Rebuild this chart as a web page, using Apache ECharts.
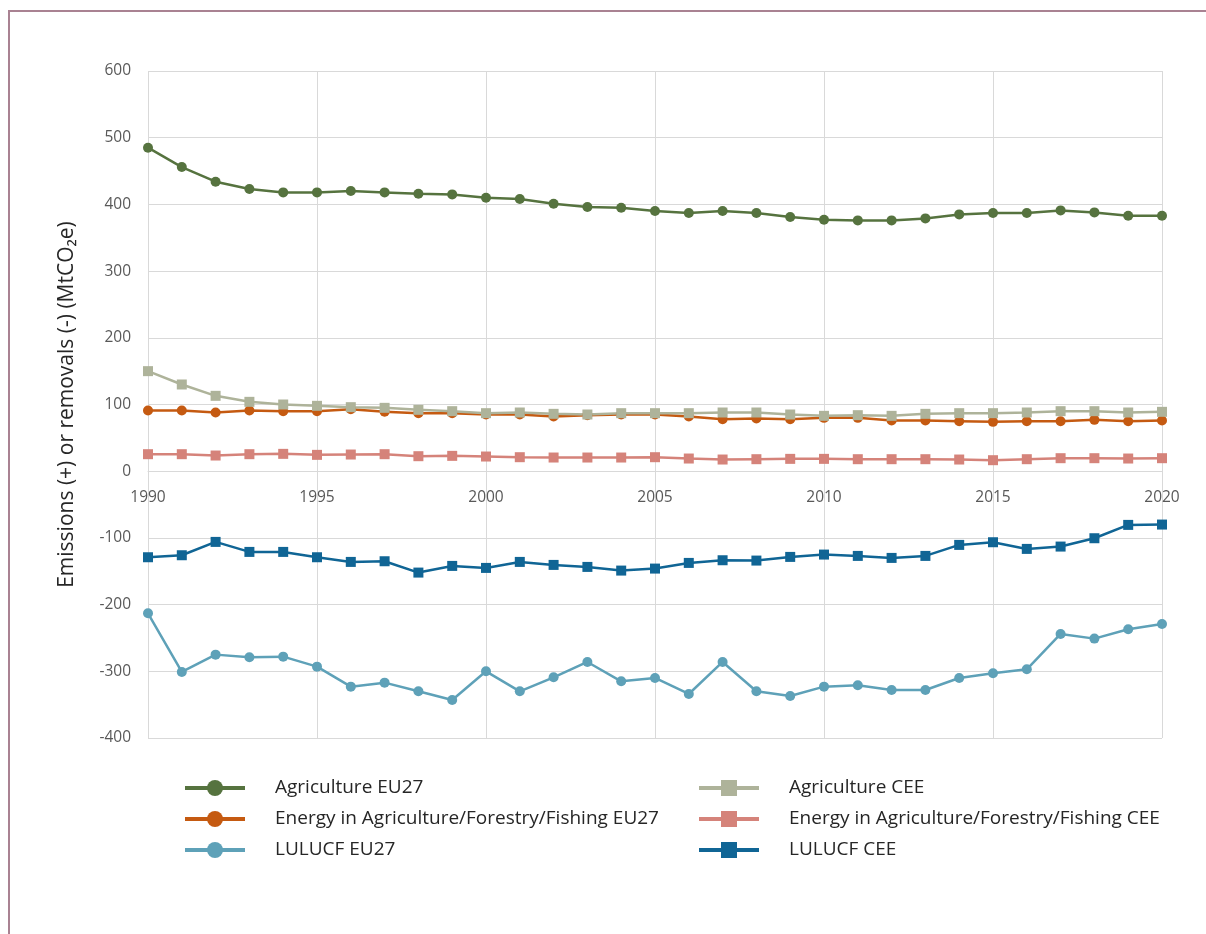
<!DOCTYPE html>
<html>
<head>
<meta charset="utf-8">
<script src="https://cdn.jsdelivr.net/npm/echarts@6/dist/echarts.min.js"></script>
<style>
  html, body { margin: 0; padding: 0; background: #fff; }
  #chart { width: 1206px; height: 934px; }
</style>
</head>
<body>
<div id="chart"></div>
<script>
const years = ['1990','1991','1992','1993','1994','1995','1996','1997','1998','1999','2000','2001','2002','2003','2004','2005','2006','2007','2008','2009','2010','2011','2012','2013','2014','2015','2016','2017','2018','2019','2020'];

const agriEU27 = [485,456,434,423,418,418,420,418,416,415,410,408,401,396,395,390,387,390,387,381,377,376,376,379,385,387,387,391,388,383,383];
const energyEU27 = [91,91,88,91,90,90,93,89,87,87,85,85,82,84,85,85,82,78,79,78,80,80,76,76,75,74,75,75,77,75,76];
const lulucfEU27 = [-213,-301,-275,-279,-278,-293,-323,-317,-330,-343,-300,-330,-309,-286,-315,-310,-334,-286,-330,-337,-323,-321,-328,-328,-310,-303,-297,-244,-251,-237,-229];
const agriCEE = [150,130,113,104,100,98,96,95,92,90,87,88,86,85,87,87,87,88,88,85,83,84,83,86,87,87,88,90,90,88,89];
const energyCEE = [25.5,25.5,23.5,25.5,26,24.5,25,25.5,22.5,23,22,21,20.5,20.5,20.5,21,19,17.5,18,18.5,18.5,18,18,18,17.5,16.5,18,19.5,19.5,19,19.5];
const lulucfCEE = [-129,-126,-106,-121,-121,-129,-136,-135,-152,-142,-145,-136,-140.5,-143.5,-149,-146,-137.5,-133.5,-134,-128.5,-125,-127,-130,-127,-110.5,-106.5,-116.5,-113,-100.5,-80.5,-80];

const names = {
  agriEU27: 'Agriculture EU27',
  energyEU27: 'Energy in Agriculture/Forestry/Fishing EU27',
  lulucfEU27: 'LULUCF EU27',
  agriCEE: 'Agriculture CEE',
  energyCEE: 'Energy in Agriculture/Forestry/Fishing CEE',
  lulucfCEE: 'LULUCF CEE'
};

const FONT = 'Open Sans';
const Y_MIN = -400, Y_MAX = 600;
const GRID_TOP = 71, GRID_BOTTOM = 196, H = 934;
const plotH = H - GRID_TOP - GRID_BOTTOM;
// move x axis up to the zero line of the value axis
const zeroOffset = -plotH * (0 - Y_MIN) / (Y_MAX - Y_MIN);

function mk(name, data, color, symbol) {
  return {
    name: name,
    type: 'line',
    data: data,
    symbol: symbol,
    symbolSize: 10,
    showSymbol: true,
    lineStyle: { color: color, width: 2.5 },
    itemStyle: { color: color },
    emphasis: { disabled: true },
    animation: false
  };
}

const chart = echarts.init(document.getElementById('chart'), null, { renderer: 'canvas' });

const legendCommon = {
  orient: 'vertical',
  itemWidth: 60,
  itemHeight: 20,
  itemGap: 5,
  padding: 0,
  lineStyle: { width: 4 },
  textStyle: { fontFamily: FONT, fontSize: 19, color: '#262626', padding: [0, 0, 0, 25], lineHeight: 26 },
  selectedMode: false
};

chart.setOption({
  backgroundColor: '#fff',
  textStyle: { fontFamily: FONT },
  graphic: [{
    type: 'polyline',
    shape: { points: [[9, 940], [9, 11], [1210, 11]] },
    style: { stroke: '#a98292', lineWidth: 2, fill: null },
    silent: true
  }],
  grid: { left: 148, right: 44, top: GRID_TOP, bottom: GRID_BOTTOM, containLabel: false },
  legend: [
    Object.assign({}, legendCommon, {
      left: 183, top: 775,
      data: [names.agriEU27, names.energyEU27, names.lulucfEU27]
    }),
    Object.assign({}, legendCommon, {
      left: 697, top: 775,
      data: [names.agriCEE, names.energyCEE, names.lulucfCEE]
    })
  ],
  xAxis: {
    type: 'category',
    data: years,
    boundaryGap: false,
    offset: zeroOffset,
    axisLine: { onZero: false, lineStyle: { color: '#d9d9d9', width: 1 } },
    axisTick: { show: false },
    axisLabel: { interval: 4, color: '#595959', fontFamily: FONT, fontSize: 15.5, margin: 18 },
    splitLine: { show: true, interval: 4, lineStyle: { color: '#d9d9d9', width: 1 } }
  },
  yAxis: {
    type: 'value',
    min: Y_MIN, max: Y_MAX, interval: 100,
    name: 'Emissions (+) or removals (-) (MtCO₂e)',
    nameLocation: 'middle',
    nameGap: 70,
    nameTextStyle: { fontFamily: FONT, fontSize: 21, color: '#262626' },
    axisLine: { show: false },
    axisTick: { show: false },
    axisLabel: { color: '#595959', fontFamily: FONT, fontSize: 15.5, margin: 17 },
    splitLine: { show: true, lineStyle: { color: '#d9d9d9', width: 1 } }
  },
  series: [
    mk(names.agriEU27, agriEU27, '#56733f', 'circle'),
    mk(names.energyEU27, energyEU27, '#c55a11', 'circle'),
    mk(names.lulucfEU27, lulucfEU27, '#5ea1b8', 'circle'),
    mk(names.agriCEE, agriCEE, '#aeb39a', 'rect'),
    mk(names.energyCEE, energyCEE, '#d5837a', 'rect'),
    mk(names.lulucfCEE, lulucfCEE, '#106595', 'rect')
  ]
});
</script>
</body>
</html>
